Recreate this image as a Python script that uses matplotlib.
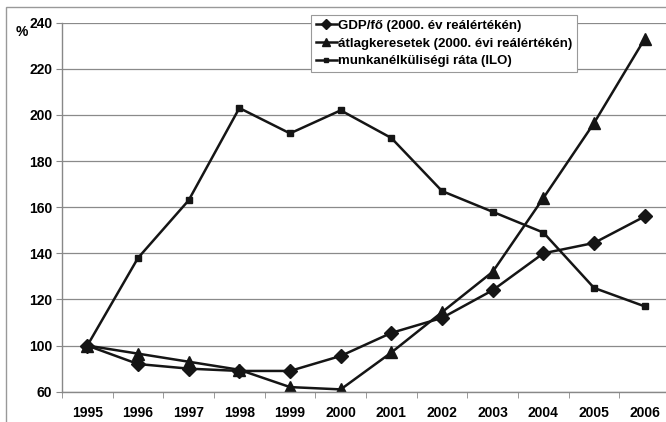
import matplotlib
matplotlib.use("Agg")
import matplotlib.pyplot as plt
from matplotlib.patches import Rectangle

years = ['1995', '1996', '1997', '1998', '1999', '2000',
         '2001', '2002', '2003', '2004', '2005', '2006']
gdp = [100, 92, 90, 89, 89, 95.5, 105.5, 112, 124, 140, 144.5, 156]
wages = [100, 96.5, 93, 89.5, 82, 81, 97, 114.5, 132, 164, 196.5, 233]
unemp = [100, 138, 163, 203, 192, 202, 190, 167, 158, 149, 125, 117]
labels = ['GDP/fő (2000. év reálértékén)',
          'átlagkeresetek (2000. évi reálértékén)',
          'munkanélküliségi ráta (ILO)']
yticks = [80, 100, 120, 140, 160, 180, 200, 220, 240]
ytick_labels = ['60', '100', '120', '140', '160', '180', '200', '220', '240']

plt.rcParams['font.family'] = ['Liberation Sans', 'DejaVu Sans']
plt.rcParams['font.weight'] = 'bold'

fig = plt.figure(figsize=(6.66, 4.22), dpi=100)
ax = fig.add_axes([0.0931, 0.0718, 0.913, 0.8744])

x = range(len(years))
col = '#151515'
ax.plot(x, gdp, color=col, lw=1.8, marker='D', ms=7.5, label=labels[0])
ax.plot(x, wages, color=col, lw=1.8, marker='^', ms=8.5, label=labels[1])
ax.plot(x, unemp, color=col, lw=1.8, marker='s', ms=5, label=labels[2])

ax.set_xlim(-0.5, 11.5)
ax.set_ylim(80, 240)
ax.set_yticks(yticks)
ax.set_yticklabels(ytick_labels, fontsize=10, fontweight='bold')
ax.set_xticks(list(x))
ax.set_xticklabels(years, fontsize=10, fontweight='bold')
ax.set_xticks([i + 0.5 for i in range(-1, 12)], minor=True)
ax.tick_params(axis='x', which='major', length=0, pad=10)
ax.tick_params(axis='x', which='minor', length=4, color='#888888')
ax.tick_params(axis='y', length=4, color='#888888', pad=3)

ax.grid(axis='y', color='#8a8a8a', lw=0.9)
ax.set_axisbelow(True)
for s in ['top', 'right']:
    ax.spines[s].set_visible(False)
for s in ['left', 'bottom']:
    ax.spines[s].set_color('#888888')
    ax.spines[s].set_linewidth(1)

fig.text(22 / 666, 1 - 32 / 422, '%', fontsize=10, fontweight='bold',
         ha='center', va='center')

leg = ax.legend(loc='upper left', bbox_to_anchor=(311 / 666, 1 - 15 / 422),
                bbox_transform=fig.transFigure, fontsize=9.5, frameon=True,
                fancybox=False, edgecolor='#999999', handlelength=1.6,
                handletextpad=0.1, borderpad=0.35, labelspacing=0.42,
                borderaxespad=0, markerscale=0.7, framealpha=1)
leg.get_frame().set_linewidth(0.8)
for t in leg.get_texts():
    t.set_fontweight('bold')

fig.patches.append(Rectangle((6 / 666, -0.1), 1.2, 1.1 - 7 / 422,
                             transform=fig.transFigure, fill=False,
                             edgecolor='#999999', lw=1))

fig.savefig('out.png', dpi=100)
